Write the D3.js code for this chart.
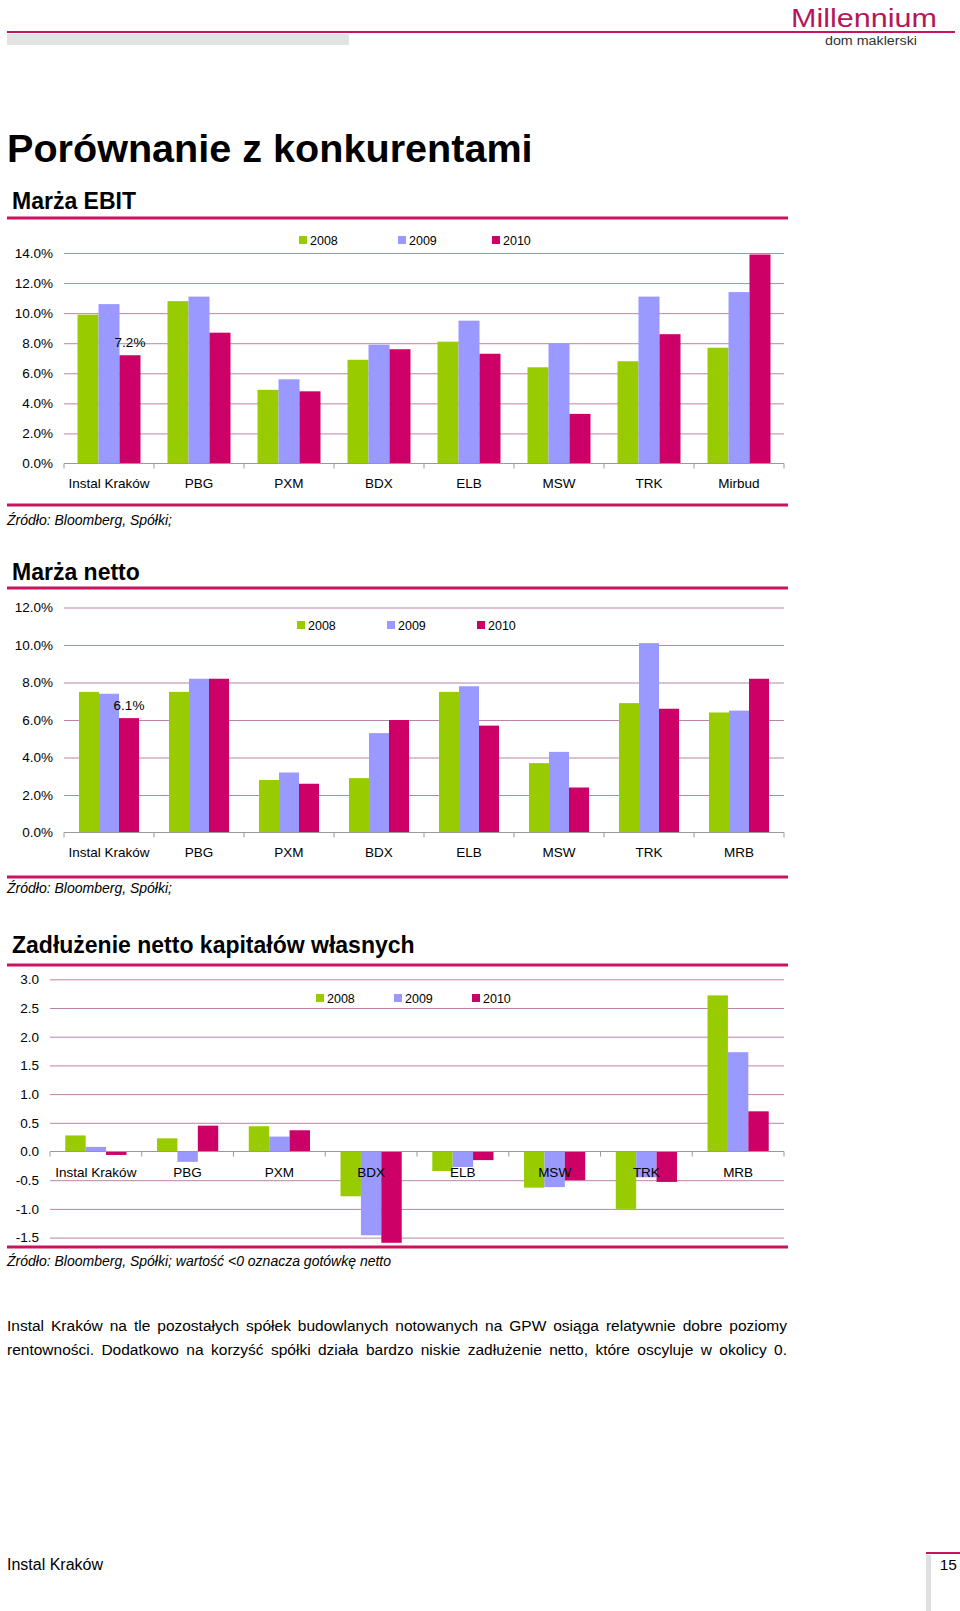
<!DOCTYPE html>
<html>
<head>
<meta charset="utf-8">
<script src="https://cdn.jsdelivr.net/npm/d3@7"></script>
<style>
  html, body { margin: 0; padding: 0; background: #fff; }
  svg { display: block; font-family: "Liberation Sans", Arial, sans-serif; }
</style>
</head>
<body>
<svg id="page" width="960" height="1611"></svg>
<script>
// ---------- data ----------
const series = ["2008", "2009", "2010"];
const catsEbit = ["Instal Kraków", "PBG", "PXM", "BDX", "ELB", "MSW", "TRK", "Mirbud"];
const catsNet = ["Instal Kraków", "PBG", "PXM", "BDX", "ELB", "MSW", "TRK", "MRB"];
const catsDebt = ["Instal Kraków", "PBG", "PXM", "BDX", "ELB", "MSW", "TRK", "MRB"];

const ebit2008 = [9.9, 10.8, 4.9, 6.9, 8.1, 6.4, 6.8, 7.7];
const ebit2009 = [10.6, 11.1, 5.6, 7.9, 9.5, 8.0, 11.1, 11.4];
const ebit2010 = [7.2, 8.7, 4.8, 7.6, 7.3, 3.3, 8.6, 13.9];

const net2008 = [7.5, 7.5, 2.8, 2.9, 7.5, 3.7, 6.9, 6.4];
const net2009 = [7.4, 8.2, 3.2, 5.3, 7.8, 4.3, 10.1, 6.5];
const net2010 = [6.1, 8.2, 2.6, 6.0, 5.7, 2.4, 6.6, 8.2];

const debt2008 = [0.28, 0.23, 0.44, -0.78, -0.34, -0.63, -1.0, 2.72];
const debt2009 = [0.08, -0.18, 0.26, -1.46, -0.27, -0.62, -0.45, 1.73];
const debt2010 = [-0.06, 0.45, 0.37, -1.59, -0.15, -0.50, -0.53, 0.70];

const ticksEbit = [0, 2, 4, 6, 8, 10, 12, 14];
const ticksNet = [0, 2, 4, 6, 8, 10, 12];
const ticksDebt = [-1.5, -1.0, -0.5, 0, 0.5, 1.0, 1.5, 2.0, 2.5, 3.0];

const colors = ["#99cc00", "#9999ff", "#cc0066"];
const MAG = "#c8145f";
const GRID = "#bb84a8";

const svg = d3.select("#page");

// ---------- page header ----------
svg.append("line").attr("x1", 7).attr("x2", 955).attr("y1", 32).attr("y2", 32)
  .attr("stroke", MAG).attr("stroke-width", 2);
svg.append("rect").attr("x", 7).attr("y", 34).attr("width", 342).attr("height", 11).attr("fill", "#e3e3e3");
svg.append("text").attr("x", 791).attr("y", 27)
  .attr("textLength", 146).attr("lengthAdjust", "spacingAndGlyphs")
  .style("font-size", "25px").attr("fill", "#b3175a")
  .text("Millennium");
svg.append("text").attr("x", 825).attr("y", 45)
  .attr("textLength", 92).attr("lengthAdjust", "spacingAndGlyphs")
  .style("font-size", "12.5px").attr("fill", "#333")
  .text("dom maklerski");

svg.append("text").attr("x", 7).attr("y", 162).style("font-size", "39.6px").style("font-weight", "bold")
  .attr("fill", "#000").text("Porównanie z konkurentami");

function sectionHeader(title, baseline, lineY) {
  svg.append("text").attr("x", 12).attr("y", baseline).style("font-size", "23px").style("font-weight", "bold")
    .attr("fill", "#000").text(title);
  svg.append("line").attr("x1", 7).attr("x2", 788).attr("y1", lineY).attr("y2", lineY)
    .attr("stroke", MAG).attr("stroke-width", 3);
}
function sourceBlock(lineY, text, baseline) {
  svg.append("line").attr("x1", 7).attr("x2", 788).attr("y1", lineY).attr("y2", lineY)
    .attr("stroke", MAG).attr("stroke-width", 3);
  svg.append("text").attr("x", 7).attr("y", baseline).style("font-size", "14px").style("font-style", "italic")
    .attr("fill", "#000").text(text);
}

// ---------- generic grouped bar chart ----------
function barChart(o) {
  const g = svg.append("g");
  const x = d3.scaleBand().domain(o.cats).range([o.x0, o.x1]).padding(0);
  const bw = o.barW;
  const outer = (x.bandwidth() - 3 * bw) / 2 / bw;
  const xs = d3.scaleBand().domain(series).range([0, x.bandwidth()]).paddingInner(0).paddingOuter(outer);
  const y = d3.scaleLinear().domain(o.domain).range(o.yRange);

  // gridlines + tick labels through d3 axis
  const ax = g.append("g").attr("transform", `translate(${o.x0},0)`)
    .call(d3.axisLeft(y).tickValues(o.ticks).tickFormat(o.fmt).tickSize(-(o.x1 - o.x0)).tickPadding(11));
  ax.select(".domain").remove();
  ax.selectAll(".tick line").attr("stroke", d => d === 0 ? "none" : GRID).attr("stroke-width", 1);
  ax.selectAll(".tick text").style("font-size", "13.5px").style("font-family", "'Liberation Sans', Arial, sans-serif")
    .attr("fill", "#000");

  // bars
  const rows = o.cats.map((c, i) => ({ cat: c, vals: o.data.map(s => s[i]) }));
  const grp = g.selectAll("g.grp").data(rows).join("g").attr("class", "grp")
    .attr("transform", d => `translate(${x(d.cat)},0)`);
  grp.selectAll("rect").data(d => d.vals.map((v, k) => ({ v, k }))).join("rect")
    .attr("x", d => xs(series[d.k]))
    .attr("width", xs.bandwidth())
    .attr("y", d => y(Math.max(0, d.v)))
    .attr("height", d => Math.abs(y(d.v) - y(0)))
    .attr("fill", d => colors[d.k]);

  // zero axis line + boundary ticks
  const y0 = y(0);
  g.append("line").attr("x1", o.x0).attr("x2", o.x1).attr("y1", y0).attr("y2", y0)
    .attr("stroke", "#999").attr("stroke-width", 1);
  const bounds = o.cats.map(c => x(c)).concat([o.x1]);
  g.selectAll("line.bt").data(bounds).join("line").attr("class", "bt")
    .attr("x1", d => d).attr("x2", d => d).attr("y1", y0).attr("y2", y0 + 5)
    .attr("stroke", "#999");

  // category labels
  g.selectAll("text.cat").data(o.cats).join("text").attr("class", "cat")
    .attr("x", d => x(d) + x.bandwidth() / 2).attr("y", o.catY)
    .attr("text-anchor", "middle").style("font-size", "13.5px").attr("fill", "#000").text(d => d);

  // data label on first category 2010 bar
  if (o.label) {
    const v = o.data[2][0];
    g.append("text").attr("x", x(o.cats[0]) + xs("2010") + xs.bandwidth() / 2).attr("y", y(v) - 8)
      .attr("text-anchor", "middle").style("font-size", "13.5px").attr("fill", "#000").text(o.label(v));
  }

  // legend
  const lg = g.selectAll("g.lg").data(series).join("g").attr("class", "lg")
    .attr("transform", (d, i) => `translate(${o.legendX[i]},${o.legendY})`);
  lg.append("rect").attr("x", 0).attr("y", -4).attr("width", 8).attr("height", 8).attr("fill", (d, i) => colors[i]);
  lg.append("text").attr("x", 11).attr("y", 4.5).style("font-size", "12.5px").attr("fill", "#000").text(d => d);
}

// ---------- section 1: Marża EBIT ----------
sectionHeader("Marża EBIT", 209, 218);
barChart({
  cats: catsEbit, data: [ebit2008, ebit2009, ebit2010],
  x0: 64, x1: 784, barW: 21,
  domain: [0, 14], yRange: [463.5, 253], ticks: ticksEbit,
  fmt: d => d.toFixed(1) + "%",
  catY: 488, legendX: [299, 398, 492], legendY: 240,
  label: v => v.toFixed(1) + "%"
});
sourceBlock(505, "Źródło: Bloomberg, Spółki;", 525);

// ---------- section 2: Marża netto ----------
sectionHeader("Marża netto", 580, 588);
barChart({
  cats: catsNet, data: [net2008, net2009, net2010],
  x0: 64, x1: 784, barW: 20,
  domain: [0, 12], yRange: [832.5, 607.5], ticks: ticksNet,
  fmt: d => d.toFixed(1) + "%",
  catY: 857, legendX: [297, 387, 477], legendY: 625,
  label: v => v.toFixed(1) + "%"
});
sourceBlock(877, "Źródło: Bloomberg, Spółki;", 893);

// ---------- section 3: Zadłużenie netto ----------
sectionHeader("Zadłużenie netto kapitałów własnych", 953, 965);
barChart({
  cats: catsDebt, data: [debt2008, debt2009, debt2010],
  x0: 50, x1: 784, barW: 20.4,
  domain: [-1.5, 3], yRange: [1237.6, 979.3], ticks: ticksDebt,
  fmt: d => d.toFixed(1),
  catY: 1177, legendX: [316, 394, 472], legendY: 998,
  label: null
});
sourceBlock(1247, "Źródło: Bloomberg, Spółki; wartość <0 oznacza gotówkę netto", 1266);

// ---------- paragraph (justified via word spacing) ----------
const para = [
  "Instal Kraków na tle pozostałych spółek budowlanych notowanych na GPW osiąga relatywnie dobre poziomy",
  "rentowności. Dodatkowo na korzyść spółki działa bardzo niskie zadłużenie netto, które oscyluje w okolicy 0."
];
svg.selectAll("text.para").data(para).join("text").attr("class", "para")
  .attr("x", 7).attr("y", (d, i) => 1331 + i * 24)
  .style("font-size", "15.5px").attr("fill", "#000").text(d => d)
  .each(function (d) {
    const len = this.getComputedTextLength();
    const spaces = (d.match(/ /g) || []).length;
    const extra = (780 - len) / spaces;
    d3.select(this).style("word-spacing", extra + "px");
  });

// ---------- footer ----------
svg.append("text").attr("x", 7).attr("y", 1570).style("font-size", "16px").attr("fill", "#000").text("Instal Kraków");
svg.append("line").attr("x1", 926).attr("x2", 960).attr("y1", 1553).attr("y2", 1553).attr("stroke", MAG).attr("stroke-width", 2);
svg.append("rect").attr("x", 926).attr("y", 1555).attr("width", 5).attr("height", 56).attr("fill", "#e0e0e0");
svg.append("text").attr("x", 957).attr("y", 1570).attr("text-anchor", "end").style("font-size", "15.5px").attr("fill", "#000").text("15");
</script>
</body>
</html>
